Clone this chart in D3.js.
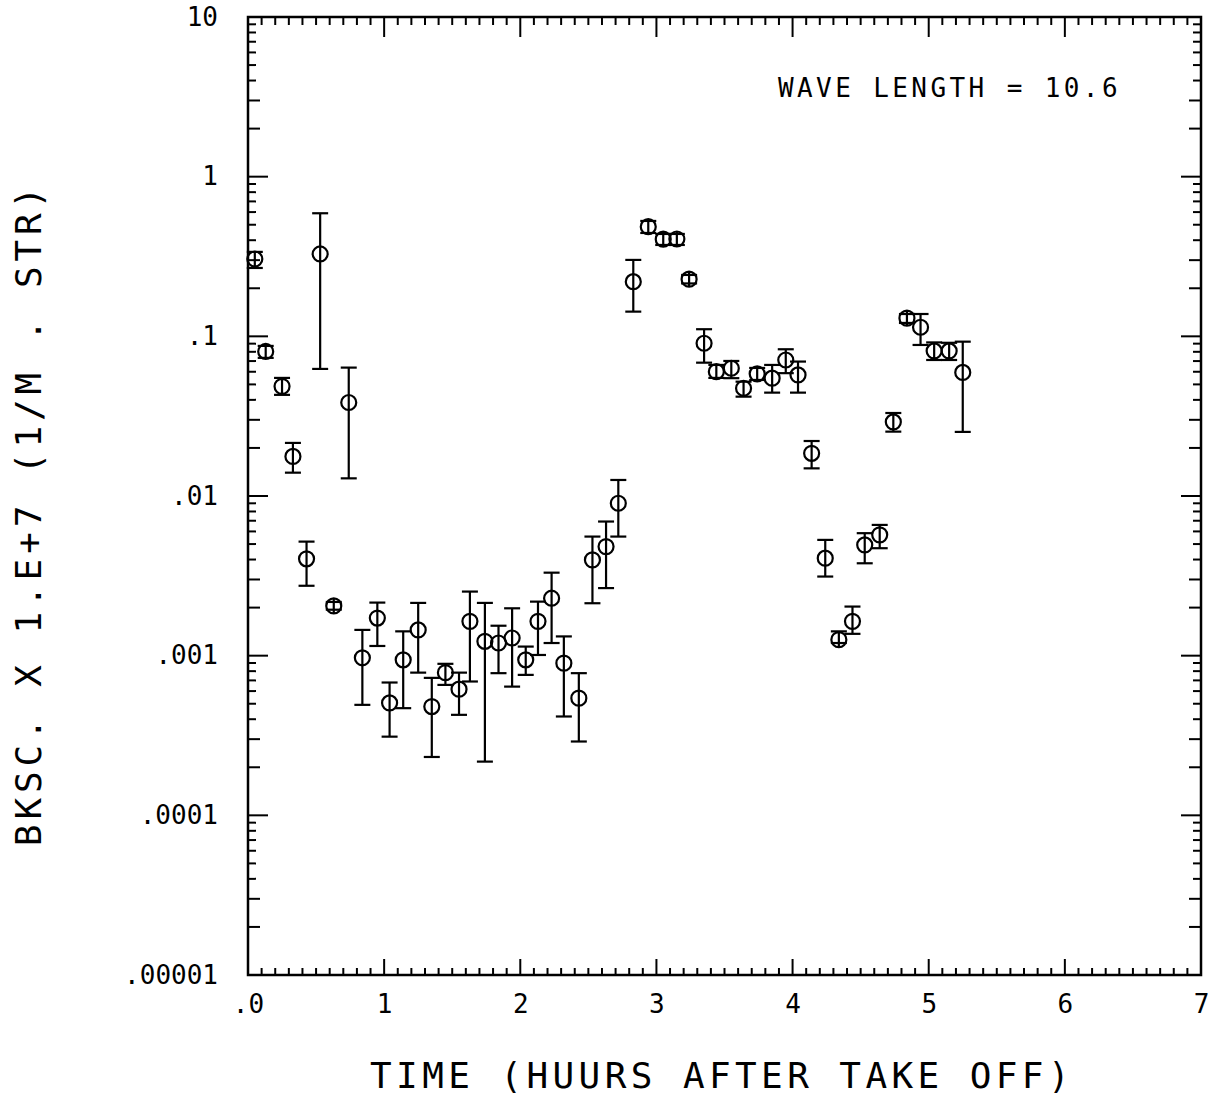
<!DOCTYPE html>
<html>
<head>
<meta charset="utf-8">
<script src="https://cdn.jsdelivr.net/npm/d3@7"></script>
<style>
  html, body { margin: 0; padding: 0; background: #fff; }
  svg { display: block; }
  text { font-family: "DejaVu Sans Mono", "Liberation Mono", monospace; fill: #000; }
</style>
</head>
<body>
<svg id="chart" width="1212" height="1096"></svg>
<script>
// ---- data (hours after take-off, backscatter x 1e7, error bar low/high) ----
const times = [0.05, 0.13, 0.25, 0.33, 0.43, 0.53, 0.63, 0.74, 0.84, 0.95,
               1.04, 1.14, 1.25, 1.35, 1.45, 1.55, 1.63, 1.74, 1.84, 1.94,
               2.04, 2.13, 2.23, 2.32, 2.43, 2.53, 2.63, 2.72, 2.83, 2.94,
               3.05, 3.15, 3.24, 3.35, 3.44, 3.55, 3.64, 3.74, 3.85, 3.95,
               4.04, 4.14, 4.24, 4.34, 4.44, 4.53, 4.64, 4.74, 4.84, 4.94,
               5.04, 5.15, 5.25];
const values = [0.305, 0.0804, 0.0486, 0.0177, 0.00404, 0.328, 0.00205, 0.0385, 0.00097, 0.00172,
                0.000506, 0.000942, 0.00145, 0.00048, 0.000783, 0.000617, 0.00164, 0.00123, 0.0012, 0.00129,
                0.000942, 0.00164, 0.00229, 0.000898, 0.000542, 0.00398, 0.00482, 0.00901, 0.220, 0.486,
                0.406, 0.407, 0.228, 0.0905, 0.0601, 0.0631, 0.0473, 0.0582, 0.0547, 0.0711,
                0.0573, 0.0185, 0.00408, 0.00126, 0.00164, 0.00494, 0.00571, 0.0291, 0.130, 0.114,
                0.081, 0.081, 0.0594];
const errLow = [0.268, 0.0733, 0.0430, 0.0140, 0.00274, 0.0625, 0.00194, 0.0129, 0.000492, 0.00115,
                0.000311, 0.000469, 0.000783, 0.000232, 0.000656, 0.000426, 0.000689, 0.000217, 0.000777, 0.00064,
                0.000758, 0.00101, 0.0012, 0.000416, 0.00029, 0.00213, 0.00265, 0.00557, 0.1428, 0.444,
                0.3735, 0.3735, 0.2144, 0.0684, 0.0549, 0.0547, 0.0419, 0.0533, 0.0444, 0.0588,
                0.0444, 0.0149, 0.00313, 0.0012, 0.00137, 0.00379, 0.00471, 0.0253, 0.1213, 0.0883,
                0.0711, 0.0711, 0.0252];
const errHigh = [0.338, 0.0871, 0.0549, 0.0215, 0.00518, 0.590, 0.00217, 0.0637, 0.00145, 0.00215,
                 0.000679, 0.00142, 0.00214, 0.000726, 0.000889, 0.000783, 0.00252, 0.00214, 0.00154, 0.00198,
                 0.00114, 0.00218, 0.00331, 0.00132, 0.000777, 0.00557, 0.00692, 0.0126, 0.301, 0.528,
                 0.4377, 0.4377, 0.2424, 0.1108, 0.0662, 0.0701, 0.0520, 0.0634, 0.0662, 0.083,
                 0.0695, 0.0221, 0.00531, 0.00142, 0.00203, 0.00585, 0.00659, 0.0331, 0.138, 0.138,
                 0.0916, 0.0911, 0.0926];

const xTickValues = [0, 1, 2, 3, 4, 5, 6, 7];
const xTickLabels = [".0", "1", "2", "3", "4", "5", "6", "7"];
const yTickValues = [10, 1, 0.1, 0.01, 0.001, 0.0001, 0.00001];
const yTickLabels = ["10", "1", ".1", ".01", ".001", ".0001", ".00001"];

const xTitle = "TIME (HUURS AFTER TAKE OFF)";
const yTitle = "BKSC. X 1.E+7 (1/M . STR)";
const annotation = "WAVE LENGTH = 10.6";

// ---- layout ----
const L = 248, R = 1201, T = 17, B = 975;
const svg = d3.select("#chart");
const x = d3.scaleLinear().domain([0, 7]).range([L, R]);
const y = d3.scaleLog().domain([1e-5, 10]).range([B, T]);

const ink = "#000";

// frame
svg.append("rect").attr("x", L).attr("y", T).attr("width", R - L).attr("height", B - T)
  .attr("fill", "none").attr("stroke", ink).attr("stroke-width", 2.5);

// x ticks (every 0.1 h), top and bottom, inward
const xMinor = d3.range(0, 70).map(i => i / 10);
const gt = svg.append("g").attr("stroke", ink).attr("stroke-width", 2);
xMinor.forEach(v => {
  const major = Math.abs(v - Math.round(v)) < 1e-9;
  const px = x(v);
  gt.append("line").attr("x1", px).attr("x2", px).attr("y1", T).attr("y2", T + (major ? 20 : 8));
  gt.append("line").attr("x1", px).attr("x2", px).attr("y1", B).attr("y2", B - (major ? 16 : 7));
});

// y ticks (log minor), left and right, inward
for (let e = -5; e < 1; e++) {
  for (let m = 1; m <= 9; m++) {
    const v = m * Math.pow(10, e);
    const py = y(v);
    const len = m === 1 ? 20 : (m === 2 || m === 3 ? 12 : 8);
    gt.append("line").attr("x1", L).attr("x2", L + len).attr("y1", py).attr("y2", py);
    gt.append("line").attr("x1", R).attr("x2", R - len).attr("y1", py).attr("y2", py);
  }
}

// axis labels via d3 axes
const xAxis = d3.axisBottom(x).tickValues(xTickValues)
  .tickFormat((d, i) => xTickLabels[i]).tickSize(0).tickPadding(0);
const gx = svg.append("g").attr("transform", `translate(0,${B})`).call(xAxis);
gx.select(".domain").remove();
gx.selectAll("text").attr("font-family", "DejaVu Sans Mono").attr("font-size", 26)
  .attr("fill", ink).attr("y", 20).attr("dy", "0.71em");

const yAxis = d3.axisLeft(y).tickValues(yTickValues)
  .tickFormat((d, i) => yTickLabels[i]).tickSize(0).tickPadding(30);
const gy = svg.append("g").attr("transform", `translate(${L},0)`).call(yAxis);
gy.select(".domain").remove();
gy.selectAll("text").attr("font-family", "DejaVu Sans Mono").attr("font-size", 26)
  .attr("fill", ink);

// titles
svg.append("text").attr("x", 722).attr("y", 1088).attr("text-anchor", "middle")
  .attr("font-size", 36).attr("letter-spacing", 4.4).text(xTitle);
svg.append("text").attr("transform", "translate(41,514) rotate(-90)")
  .attr("text-anchor", "middle").attr("font-size", 36).attr("letter-spacing", 4.9).text(yTitle);
svg.append("text").attr("x", 778).attr("y", 97).attr("font-size", 26)
  .attr("letter-spacing", 3.4).text(annotation);

// data
const data = times.map((t, i) => ({ t, v: values[i], lo: errLow[i], hi: errHigh[i] }));
const r = 7.5, cap = 8;
const gp = svg.append("g").attr("stroke", ink).attr("fill", "none").attr("stroke-width", 2.2);
data.forEach(d => {
  const cx = x(d.t), cy = y(d.v);
  const yHi = Math.min(y(d.hi), cy - r), yLo = Math.max(y(d.lo), cy + r);
  gp.append("line").attr("x1", cx).attr("x2", cx).attr("y1", yHi).attr("y2", yLo);
  gp.append("line").attr("x1", cx - cap).attr("x2", cx + cap).attr("y1", y(d.hi)).attr("y2", y(d.hi));
  gp.append("line").attr("x1", cx - cap).attr("x2", cx + cap).attr("y1", y(d.lo)).attr("y2", y(d.lo));
  gp.append("ellipse").attr("cx", cx).attr("cy", cy).attr("rx", r).attr("ry", r);
});
</script>
</body>
</html>
